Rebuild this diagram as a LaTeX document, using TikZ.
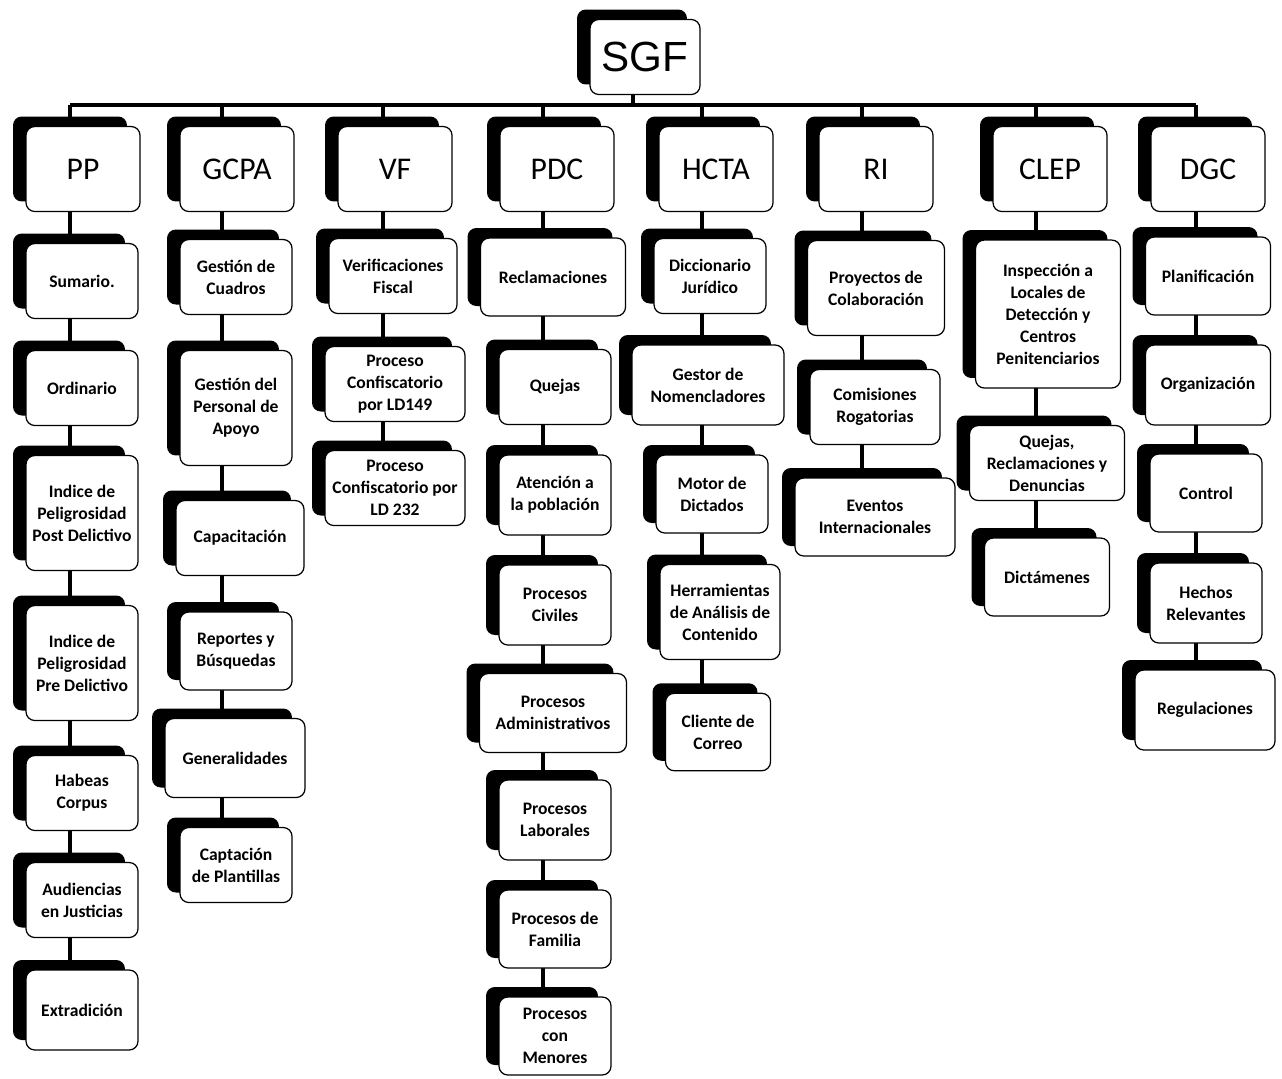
\documentclass[tikz,border=0pt]{standalone}
\usepackage{fontspec}
\setmainfont{Carlito}
\newfontfamily\sgffont{Liberation Sans}
\usepackage{tikz}
\usetikzlibrary{shadows,backgrounds}
\tikzset{
	card/.style={draw=black, line width=0.7pt, fill=white, rounded corners=5pt, align=center,
		font=\bfseries\fontsize{10}{12.5}\selectfont, inner sep=2pt,
		minimum width=2.24cm, minimum height=1.5cm,
		general shadow={fill=black, shadow xshift=-0.26cm, shadow yshift=0.2cm}},
	head/.style={card, font=\fontsize{18}{20}\selectfont, minimum width=2.28cm, minimum height=1.7cm},
	link/.style={line width=2.2pt},
	bus/.style={line width=2.6pt},
}

\begin{document}
\begin{tikzpicture}[x=0.02cm, y=-0.02cm]
		%%%%% START %%%%%
		\useasboundingbox (0,0) rectangle (1282,1079);
		
		\node[head, font=\sgffont\fontsize{24}{28}\selectfont, minimum width=2.2cm, minimum height=1.5cm] (sgf) at (645,57) {SGF};
		
		% heads
		\node[head] (pp) at (83,169) {PP};
		\node[head] (gcpa) at (237,169) {GCPA};
		\node[head] (vf) at (395,169) {VF};
		\node[head] (pdc) at (557,169) {PDC};
		\node[head] (hcta) at (716,169) {HCTA};
		\node[head] (ri) at (876,169) {RI};
		\node[head] (clep) at (1050,169) {CLEP};
		\node[head] (dgc) at (1208,169) {DGC};
		
		% PP
		\node[card] (pp1) at (82,281) {Sumario.};
		\node[card] (pp2) at (82,388) {Ordinario};
		\node[card, minimum height=2.3cm] (pp3) at (82,513) {Indice de\\Peligrosidad\\Post Delictivo};
		\node[card, minimum height=2.3cm] (pp4) at (82,663) {Indice de\\Peligrosidad\\Pre Delictivo};
		\node[card] (pp5) at (82,793) {Habeas\\Corpus};
		\node[card] (pp6) at (82,900) {Audiencias\\en Justicias};
		\node[card, minimum height=1.6cm] (pp7) at (82,1010) {Extradición};
		
		% GCPA
		\node[card] (gc1) at (236,277) {Gestión de\\Cuadros};
		\node[card, minimum height=2.3cm] (gc2) at (236,408) {Gestión del\\Personal de\\Apoyo};
		\node[card, minimum width=2.56cm] (gc3) at (240,538) {Capacitación};
		\node[card, minimum height=1.56cm] (gc4) at (236,651) {Reportes y\\Búsquedas};
		\node[card, minimum width=2.8cm, minimum height=1.58cm] (gc5) at (235,758) {Generalidades};
		\node[card] (gc6) at (236,865) {Captación\\de Plantillas};
		
		% VF
		\node[card, minimum width=2.56cm] (vf1) at (393,276) {Verificaciones\\Fiscal};
		\node[card, minimum width=2.8cm] (vf2) at (395,384) {Proceso\\Confiscatorio\\por LD149};
		\node[card, minimum width=2.8cm] (vf3) at (395,488) {Proceso\\Confiscatorio por\\LD 232};
		
		% PDC
		\node[card, minimum width=2.9cm, minimum height=1.56cm] (pdc1) at (553,277) {Reclamaciones};
		\node[card] (pdc2) at (555,387) {Quejas};
		\node[card, minimum height=1.6cm] (pdc3) at (555,495) {Atención a\\la población};
		\node[card, minimum height=1.6cm] (pdc4) at (555,605) {Procesos\\Civiles};
		\node[card, minimum width=2.94cm, minimum height=1.58cm] (pdc5) at (553,713) {Procesos\\Administrativos};
		\node[card, minimum height=1.6cm] (pdc6) at (555,820) {Procesos\\Laborales};
		\node[card, minimum height=1.56cm] (pdc7) at (555,929) {Procesos de\\Familia};
		\node[card, minimum height=1.56cm] (pdc8) at (555,1036) {Procesos\\con\\Menores};
		
		% HCTA
		\node[card] (hc1) at (710,276) {Diccionario\\Jurídico};
		\node[card, minimum width=3.04cm, minimum height=1.6cm] (hc2) at (708,385) {Gestor de\\Nomencladores};
		\node[card, minimum height=1.56cm] (hc3) at (712,494) {Motor de\\Dictados};
		\node[card, minimum width=2.4cm, minimum height=1.9cm] (hc4) at (720,612) {Herramientas\\de Análisis de\\Contenido};
		\node[card, minimum width=2.1cm, minimum height=1.55cm] (hc5) at (718,732) {Cliente de\\Correo};
		
		% RI
		\node[card, minimum width=2.74cm, minimum height=1.9cm] (ri1) at (876,288) {Proyectos de\\Colaboración};
		\node[card, minimum width=2.6cm] (ri2) at (875,407) {Comisiones\\Rogatorias};
		\node[card, minimum width=3.2cm, minimum height=1.56cm] (ri3) at (875,517) {Eventos\\Internacionales};
		
		% CLEP
		\node[card, minimum width=2.9cm, minimum height=2.96cm] (cl1) at (1048,314) {Inspección a\\Locales de\\Detección y\\Centros\\Penitenciarios};
		\node[card, minimum width=3.1cm] (cl2) at (1047,463) {Quejas,\\Reclamaciones y\\Denuncias};
		\node[card, minimum width=2.5cm, minimum height=1.56cm] (cl3) at (1047,577) {Dictámenes};
		
		% DGC
		\node[card, minimum width=2.5cm, minimum height=1.56cm] (dg1) at (1208,276) {Planificación};
		\node[card, minimum width=2.5cm, minimum height=1.6cm] (dg2) at (1208,385) {Organización};
		\node[card, minimum height=1.56cm] (dg3) at (1206,493) {Control};
		\node[card, minimum height=1.6cm] (dg4) at (1206,603) {Hechos\\Relevantes};
		\node[card, minimum width=2.8cm, minimum height=1.6cm] (dg5) at (1205,710) {Regulaciones};
		
		% lines
		\coordinate (bSGF) at (633,105);
		\coordinate (bPP) at (70,105);
		\coordinate (bGCPA) at (222,105);
		\coordinate (bVF) at (383,105);
		\coordinate (bPDC) at (543,105);
		\coordinate (bHCTA) at (702,105);
		\coordinate (bRI) at (862,105);
		\coordinate (bCLEP) at (1036,105);
		\coordinate (bDGC) at (1196,105);
		
		\begin{scope}[on background layer]
			\draw[bus] (bPP) -- (bDGC);
			\draw[link] (bSGF) -- (bSGF |- sgf.center);
			\draw[link] (bPP) -- (bPP |- pp7.center);
			\draw[link] (bGCPA) -- (bGCPA |- gc6.center);
			\draw[link] (bVF) -- (bVF |- vf3.center);
			\draw[link] (bPDC) -- (bPDC |- pdc8.center);
			\draw[link] (bHCTA) -- (bHCTA |- hc5.center);
			\draw[link] (bRI) -- (bRI |- ri3.center);
			\draw[link] (bCLEP) -- (bCLEP |- cl3.center);
			\draw[link] (bDGC) -- (bDGC |- dg5.center);
		\end{scope}
		%%%%% END %%%%%
\end{tikzpicture}
\end{document}
